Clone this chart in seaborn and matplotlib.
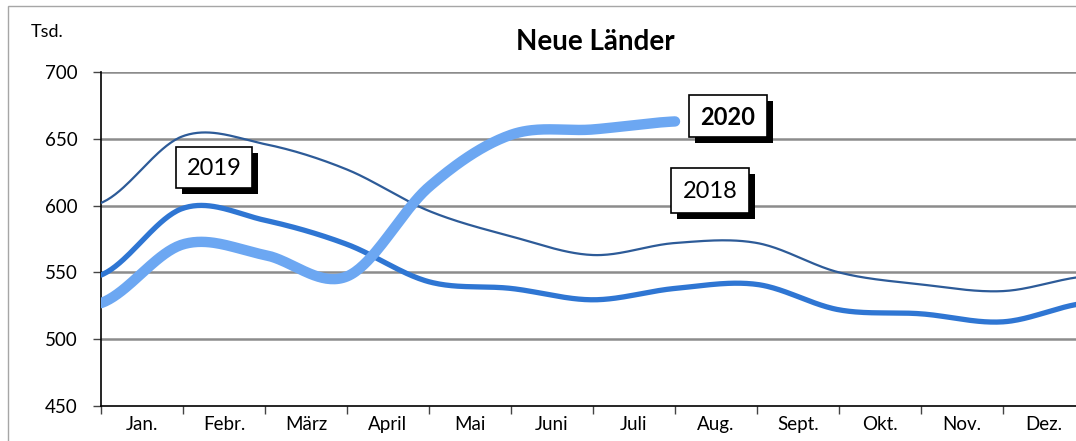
import numpy as np
import pandas as pd
import matplotlib
matplotlib.use("Agg")
import matplotlib.pyplot as plt
from matplotlib.patches import Rectangle
import seaborn as sns

# ---- data (thousands), values at month boundaries (13 points) ----
months = ["Jan.", "Febr.", "März", "April", "Mai", "Juni", "Juli",
          "Aug.", "Sept.", "Okt.", "Nov.", "Dez."]
v2018 = [602, 652, 646, 627, 596, 577, 563, 572, 572, 550, 541, 536, 547]
v2019 = [548, 598, 589, 571, 543, 538, 529.5, 538, 541, 522, 519, 513, 527]
v2020 = [527, 571, 563, 547, 614, 653, 657, 663]
series_names = ["2018", "2019", "2020"]
yticks = [450, 500, 550, 600, 650, 700]

sns.set_theme(style="white")
plt.rcParams["font.family"] = ["Lato", "DejaVu Sans"]

W, H = 1076, 441
fig = plt.figure(figsize=(W / 100, H / 100), dpi=100)
fig.patch.set_facecolor("white")

def px_rect(x0, y0, x1, y1, **kw):
    return Rectangle((x0 / W, 1 - y1 / H), (x1 - x0) / W, (y1 - y0) / H,
                     transform=fig.transFigure, **kw)

# outer chart border
fig.patches.append(px_rect(8, 6, 1090, 450, fill=False, edgecolor="#A6A6A6", lw=1.0))

ax = fig.add_axes([101 / W, (H - 406) / H, 984 / W, 334 / H])
ax.set_facecolor("none")


def smooth(vals, n=40):
    """Catmull-Rom style Bezier smoothing (like Excel's smoothed line)."""
    p = np.asarray(vals, dtype=float)
    x = np.arange(len(p), dtype=float)
    xs, ys = [], []
    for i in range(len(p) - 1):
        p0 = p[i - 1] if i > 0 else p[i]
        p3 = p[i + 2] if i + 2 < len(p) else p[i + 1]
        p1, p2 = p[i], p[i + 1]
        c1 = p1 + (p2 - p0) / 6.0
        c2 = p2 - (p3 - p1) / 6.0
        t = np.linspace(0, 1, n, endpoint=(i == len(p) - 2))
        b = ((1 - t) ** 3) * p1 + 3 * (1 - t) ** 2 * t * c1 + 3 * (1 - t) * t ** 2 * c2 + t ** 3 * p2
        xs.append(x[i] + t)
        ys.append(b)
    return np.concatenate(xs), np.concatenate(ys)

styles = {
    "2018": dict(color="#2D5B98", lw=1.6),
    "2019": dict(color="#2F76D3", lw=3.8),
    "2020": dict(color="#6CA7F2", lw=7.5),
}
for name, vals in zip(series_names, [v2018, v2019, v2020]):
    xs, ys = smooth(vals)
    df = pd.DataFrame({"x": xs, "y": ys})
    sns.lineplot(data=df, x="x", y="y", ax=ax, sort=False, estimator=None,
                 color=styles[name]["color"], linewidth=styles[name]["lw"],
                 solid_capstyle="round", zorder=3)

ax.set_xlim(0, 12)
ax.set_ylim(450, 700)
ax.set_yticks(yticks)
ax.set_yticklabels([str(v) for v in yticks])
ax.set_xticks(np.arange(13))
ax.set_xticklabels([])
ax.set_xticks(np.arange(12) + 0.5, minor=True)
ax.set_xticklabels(months, minor=True)
ax.tick_params(axis="x", which="major", direction="out", length=6, width=1, color="#444444", bottom=True)
ax.tick_params(axis="x", which="minor", length=0, pad=7, labelsize=13.5, labelcolor="black")
ax.tick_params(axis="y", direction="out", length=6, width=1, color="#444444", left=True,
               pad=11, labelsize=13.5, labelcolor="black")
ax.set_xlabel("")
ax.set_ylabel("")

for v in yticks[1:]:
    ax.axhline(v, color="#8C8C8C", lw=1.8, zorder=1)
for s in ["top", "right"]:
    ax.spines[s].set_visible(False)
ax.spines["left"].set_color("black")
ax.spines["left"].set_linewidth(1.2)
ax.spines["bottom"].set_color("black")
ax.spines["bottom"].set_linewidth(1.2)

# title and unit
fig.text(595 / W, 1 - 42 / H, "Neue Länder", ha="center", va="center",
         fontsize=20, fontweight="bold", color="black")
fig.text(31 / W, 1 - 32 / H, "Tsd.", ha="left", va="center", fontsize=13, color="black")

# labelled boxes with shadows
boxes = [
    ("2019", 176, 147, 252, 188, "normal"),
    ("2020", 689, 95, 767, 137, "bold"),
    ("2018", 671, 168, 749, 213, "normal"),
]
for label, x0, y0, x1, y1, fw in boxes:
    fig.patches.append(px_rect(x0 + 6, y0 + 6, x1 + 6, y1 + 6, facecolor="black",
                               edgecolor="black", lw=0, zorder=5))
    fig.patches.append(px_rect(x0, y0, x1, y1, facecolor="white", edgecolor="black",
                               lw=1.2, zorder=6))
    fig.text((x0 + x1) / 2 / W, 1 - ((y0 + y1) / 2 + 1) / H, label, ha="center", va="center",
             fontsize=17, fontweight=fw, color="black", zorder=7)

fig.savefig("out.png", dpi=100)
